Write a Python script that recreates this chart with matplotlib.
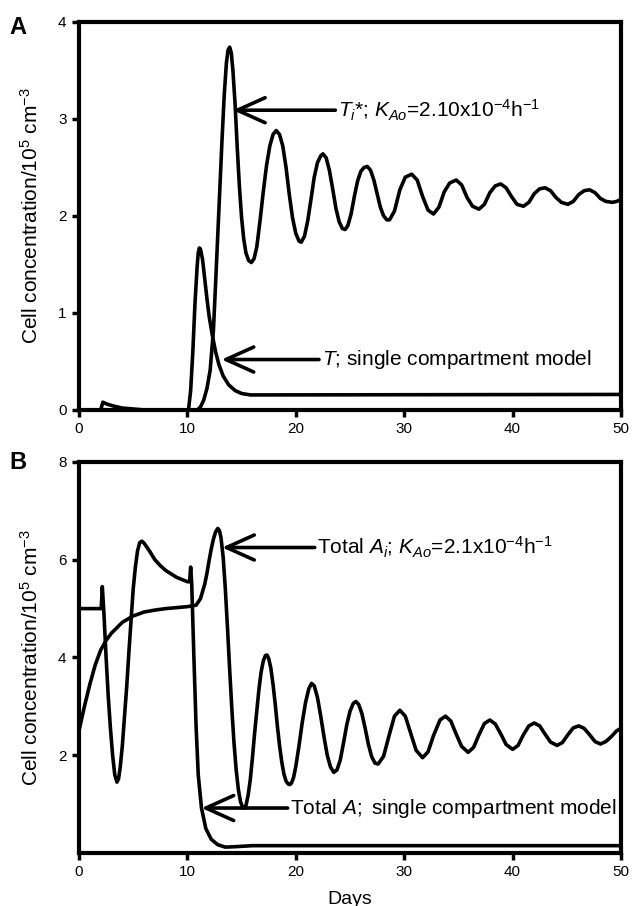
import matplotlib
matplotlib.use("Agg")
import matplotlib.pyplot as plt

plt.rcParams['font.family'] = ['Liberation Sans', 'DejaVu Sans']
plt.rcParams['mathtext.fontset'] = 'custom'
plt.rcParams['mathtext.rm'] = 'Liberation Sans'
plt.rcParams['mathtext.it'] = 'Liberation Sans:italic'
plt.rcParams['mathtext.bf'] = 'Liberation Sans:bold'

# panel A: T_i* (two compartment), days / value
ti_days = [0, 10.9, 11.2, 11.5, 11.8, 12.1, 12.4, 12.6, 12.8,
           13.0, 13.2, 13.4, 13.6, 13.75, 13.9, 14.05, 14.2, 14.4, 14.6, 14.8, 15.0, 15.2, 15.4,
           15.65, 15.9, 16.15, 16.4, 16.7, 17.0, 17.3, 17.6, 17.9, 18.2, 18.5, 18.8, 19.1, 19.4,
           19.7, 20.0, 20.3, 20.5, 20.8, 21.1, 21.4, 21.7, 22.0, 22.3, 22.5, 22.8, 23.1, 23.4,
           23.7, 24.0, 24.3, 24.55, 24.8, 25.1, 25.4, 25.7, 26.0, 26.3, 26.6, 26.9, 27.2, 27.5,
           27.8, 28.1, 28.4, 28.65,
           29.1, 29.6, 30.1, 30.7, 31.2, 31.7, 32.2, 32.7, 33.2, 33.7, 34.2, 34.8, 35.3, 35.8,
           36.3, 36.9, 37.4, 37.9, 38.4, 38.9, 39.4, 39.9, 40.4, 41.0, 41.5, 42.0, 42.5, 43.0,
           43.5, 44.0, 44.5, 45.1, 45.6, 46.1, 46.6, 47.1, 47.6, 48.1, 48.6, 49.2, 49.6, 50.0]
ti_vals = [0, 0, 0.03, 0.1, 0.22, 0.41, 0.82, 1.3, 1.8,
           2.3, 2.8, 3.25, 3.58, 3.71, 3.74, 3.68, 3.5, 3.15, 2.7, 2.3, 1.98, 1.76, 1.62,
           1.54, 1.52, 1.56, 1.68, 1.95, 2.25, 2.52, 2.72, 2.84, 2.88, 2.84, 2.72, 2.5, 2.22,
           1.98, 1.82, 1.74, 1.73, 1.79, 1.95, 2.17, 2.4, 2.55, 2.62, 2.64, 2.6, 2.47, 2.28,
           2.08, 1.94, 1.87, 1.86, 1.9, 2.02, 2.2, 2.36, 2.46, 2.5, 2.51, 2.47, 2.37, 2.23,
           2.09, 2.0, 1.96, 1.96,
           2.05, 2.27, 2.4, 2.43, 2.37, 2.2, 2.06, 2.02, 2.09, 2.25, 2.34, 2.37, 2.32, 2.19,
           2.1, 2.07, 2.12, 2.24, 2.31, 2.33, 2.29, 2.2, 2.12, 2.1, 2.14, 2.23, 2.28, 2.29,
           2.26, 2.19, 2.14, 2.12, 2.15, 2.22, 2.26, 2.27, 2.24, 2.18, 2.15, 2.14, 2.15, 2.17]

# panel A: T, single compartment model
t_days = [0, 2.0, 2.2, 2.6, 3.2, 4.0, 5.0, 6.0, 10.1, 10.3, 10.5, 10.7, 10.9, 11.0, 11.1,
          11.2, 11.4, 11.6, 11.8, 12.0, 12.3, 12.6, 12.9, 13.3, 13.8, 14.4, 15.0, 15.8, 16.5, 50]
t_vals = [0, 0, 0.08, 0.06, 0.04, 0.02, 0.01, 0, 0, 0.2, 0.6, 1.1, 1.48, 1.62, 1.67,
          1.66, 1.55, 1.35, 1.15, 0.97, 0.77, 0.6, 0.47, 0.35, 0.26, 0.2, 0.17, 0.155, 0.155, 0.16]

# panel B: total A_i (two compartment)
ai_days = [0, 0.5, 1, 1.5, 2, 2.5, 3, 4, 5, 6, 7, 8, 9, 10, 10.8, 11.2,
           11.6, 11.8, 12.0, 12.2, 12.4, 12.6, 12.8, 12.95, 13.1, 13.3, 13.5, 13.7, 13.9, 14.1,
           14.3, 14.5, 14.7, 14.9, 15.1, 15.25, 15.4, 15.6, 15.8, 16.0, 16.2, 16.4, 16.6, 16.8,
           17.0, 17.2, 17.35, 17.5, 17.7, 17.9, 18.1, 18.3, 18.5, 18.7, 18.9, 19.1, 19.3, 19.45,
           19.6, 19.8, 20.0, 20.3, 20.6, 20.9, 21.2, 21.45, 21.7, 22.0, 22.3, 22.6, 22.9, 23.2,
           23.5, 23.8, 24.1, 24.4, 24.7, 25.0, 25.3, 25.55, 25.8, 26.1, 26.4, 26.7, 27.0, 27.3,
           27.6, 28.1, 28.6, 29.1, 29.6, 30.1, 30.6, 31.1, 31.7,
           32.2, 32.7, 33.3, 33.8, 34.3, 34.8, 35.3, 35.9, 36.4, 36.9, 37.4, 37.9, 38.4, 38.9,
           39.4, 40.0, 40.5, 41.0, 41.5, 42.0, 42.5, 43.0, 43.5, 44.1, 44.6, 45.1, 45.6, 46.1,
           46.6, 47.1, 47.6, 48.1, 48.6, 49.1, 49.6, 50.0]
ai_vals = [2.5, 3.0, 3.45, 3.85, 4.15, 4.35, 4.5, 4.72, 4.85, 4.93, 4.97, 5.0, 5.02, 5.04, 5.07, 5.2,
           5.5, 5.72, 5.98, 6.22, 6.42, 6.57, 6.64, 6.6, 6.45, 6.05, 5.4, 4.6, 3.75, 2.95,
           2.25, 1.7, 1.3, 1.05, 0.93, 0.92, 0.97, 1.18, 1.5, 1.95, 2.45, 2.9, 3.35, 3.7,
           3.93, 4.04, 4.05, 3.98, 3.78, 3.45, 3.05, 2.6, 2.2, 1.87, 1.62, 1.47, 1.41, 1.4,
           1.43, 1.55, 1.77, 2.2, 2.68, 3.08, 3.36, 3.47, 3.42, 3.18, 2.8, 2.38, 2.0, 1.76,
           1.65, 1.7, 1.9, 2.25, 2.62, 2.9, 3.06, 3.1, 3.04, 2.85, 2.55, 2.22, 1.97, 1.84,
           1.82, 1.98, 2.4, 2.8, 2.92, 2.8, 2.45, 2.1, 1.95,
           2.07, 2.4, 2.72, 2.8, 2.7, 2.43, 2.18, 2.06, 2.16, 2.42, 2.65, 2.72, 2.64, 2.44,
           2.22, 2.12, 2.2, 2.42, 2.6, 2.66, 2.6, 2.43, 2.27, 2.2, 2.26, 2.42, 2.56, 2.6,
           2.55, 2.42, 2.28, 2.23, 2.28, 2.38, 2.5, 2.55]

# panel B: total A, single compartment model
a_days = [0, 2.05, 2.15, 2.3, 2.5, 2.7, 2.9, 3.1, 3.3, 3.5, 3.65, 3.8, 4.0, 4.2, 4.4, 4.6,
          4.8, 5.0, 5.2, 5.4, 5.6, 5.8, 6.0, 6.5, 7.0, 7.5, 8.0, 9.0, 10.0, 10.2, 10.3, 10.4,
          10.6, 10.8, 11.0, 11.3, 11.7, 12.2, 12.8, 13.5, 14.5, 16.0, 50]
a_vals = [5.0, 5.0, 5.45, 4.9, 4.0, 3.2, 2.55, 2.0, 1.6, 1.45, 1.52, 1.75, 2.2, 2.8, 3.4, 4.1,
          4.75, 5.4, 5.85, 6.18, 6.35, 6.38, 6.34, 6.18, 6.0, 5.88, 5.78, 5.64, 5.55, 5.55, 5.85, 5.5,
          4.0, 2.6, 1.6, 0.92, 0.5, 0.28, 0.17, 0.12, 0.13, 0.15, 0.15]

x_ticks = [0, 10, 20, 30, 40, 50]
ya_ticks = [0, 1, 2, 3, 4]
yb_ticks = [2, 4, 6, 8]
ylabel = 'Cell concentration/10$^5$ cm$^{-3}$'

fig = plt.figure(figsize=(6.32, 9.06), dpi=100)
axA = fig.add_axes([0.125, 0.5475, 0.8576, 0.4283])
axB = fig.add_axes([0.125, 0.0585, 0.8576, 0.4316])

lw = 2.6
axA.plot(ti_days, ti_vals, color='black', lw=lw, solid_joinstyle='round')
axA.plot(t_days, t_vals, color='black', lw=lw, solid_joinstyle='round')
axB.plot(ai_days, ai_vals, color='black', lw=lw, solid_joinstyle='round')
axB.plot(a_days, a_vals, color='black', lw=lw, solid_joinstyle='round')

axA.set_ylim(0, 4)
axA.set_yticks(ya_ticks)
axB.set_ylim(0, 8)
axB.set_yticks(yb_ticks)

for ax in (axA, axB):
    ax.set_xlim(0, 50)
    ax.set_xticks(x_ticks)
    for s in ax.spines.values():
        s.set_linewidth(3)
    ax.tick_params(direction='out', length=5, width=2.5, labelsize=11, pad=4)
    ax.set_ylabel(ylabel, fontsize=15, labelpad=12)

axB.set_xlabel('Days', fontsize=14, labelpad=8)

arrow = dict(arrowstyle='->,head_length=1.0,head_width=0.45', lw=2.6,
             color='black', shrinkA=0, shrinkB=0, mutation_scale=20)

axA.annotate(r'$T_i$*; $K_{Ao}$=2.10x10$^{-4}$h$^{-1}$', xy=(14.2, 3.09), xytext=(23.9, 3.09),
             fontsize=15, ha='left', va='center', arrowprops=arrow)
axA.annotate(r'$T$; single compartment model', xy=(13.15, 0.52), xytext=(22.4, 0.52),
             fontsize=15, ha='left', va='center', arrowprops=arrow)
axB.annotate(r'Total $A_i$; $K_{Ao}$=2.1x10$^{-4}$h$^{-1}$', xy=(13.2, 6.25), xytext=(22.0, 6.25),
             fontsize=15, ha='left', va='center', arrowprops=arrow)
axB.annotate(r'Total $A;$ single compartment model', xy=(11.3, 0.92), xytext=(19.5, 0.92),
             fontsize=15, ha='left', va='center', arrowprops=arrow)

fig.text(18 / 632, 1 - 27 / 906, 'A', fontsize=17, fontweight='bold', ha='center', va='center')
fig.text(18 / 632, 1 - 463 / 906, 'B', fontsize=17, fontweight='bold', ha='center', va='center')

fig.savefig('out.png', dpi=100)
